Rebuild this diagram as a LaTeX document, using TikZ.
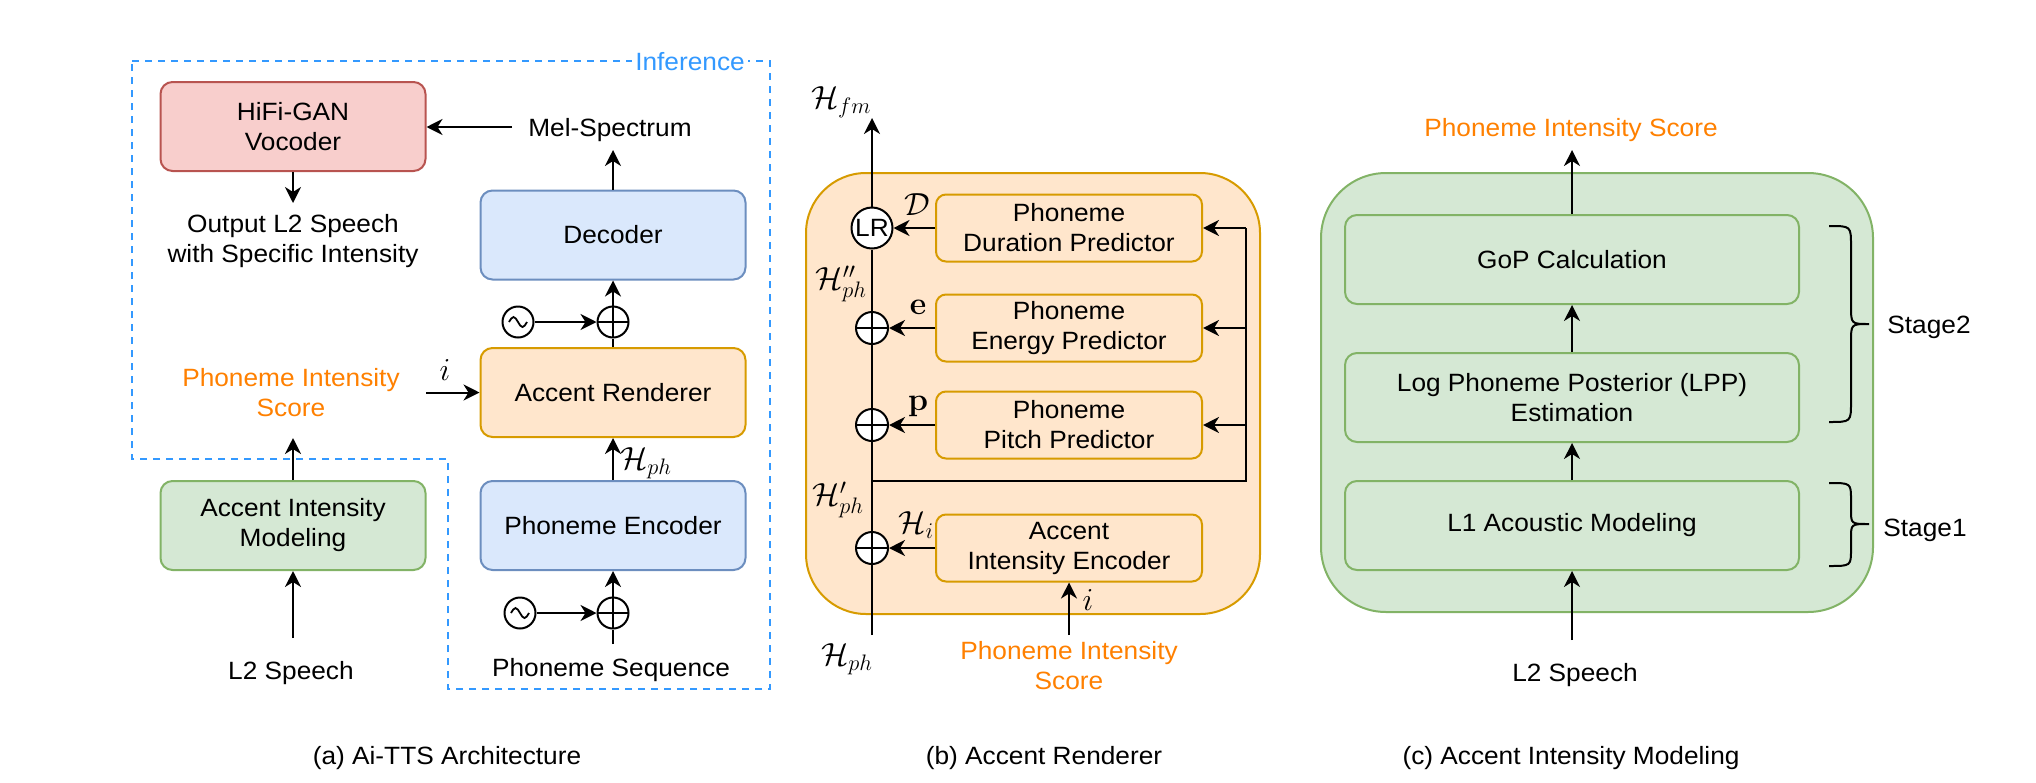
\RequirePackage{fix-cm}
\documentclass[tikz,border=0pt]{standalone}
\usepackage[no-math]{fontspec}
\setmainfont[FakeStretch=1.05]{Liberation Sans}
\usetikzlibrary{arrows.meta}
\definecolor{pinkF}{HTML}{F8CECC}
\definecolor{pinkD}{HTML}{B85450}
\definecolor{blueF}{HTML}{DAE8FC}
\definecolor{blueD}{HTML}{6C8EBF}
\definecolor{orF}{HTML}{FFE6CC}
\definecolor{orD}{HTML}{D79B00}
\definecolor{grF}{HTML}{D5E8D4}
\definecolor{grD}{HTML}{82B366}
\definecolor{orText}{HTML}{FF8000}
\definecolor{dashBlue}{HTML}{3399FF}
\newcommand\diagfont{\fontsize{25}{30}\selectfont}
\begin{document}
\begin{tikzpicture}[x=1pt,y=-1pt,
  every node/.style={font=\diagfont},
  box/.style={draw, line width=2pt, rounded corners=12pt, minimum width=265pt, minimum height=89pt, align=center, inner sep=0pt},
  pinkbox/.style={box, draw=pinkD, fill=pinkF},
  bluebox/.style={box, draw=blueD, fill=blueF},
  orbox/.style={box, draw=orD, fill=orF},
  grbox/.style={box, draw=grD, fill=grF},
  predbox/.style={box, draw=orD, fill=orF, rounded corners=10pt, minimum width=266pt, minimum height=67pt},
  gbox/.style={box, draw=grD, fill=grF, minimum width=454pt},
  txt/.style={align=center, inner sep=0pt},
  mth/.style={inner sep=0pt, font=\fontsize{32}{34}\selectfont},
  arr/.style={line width=2pt, -{Stealth[length=16pt,width=16pt,inset=5pt]}},
  ln/.style={line width=2pt},
  plusc/.style={circle, draw, line width=2pt, fill=white, minimum size=31pt, inner sep=0pt,
    path picture={\draw[line width=2pt] (path picture bounding box.north) -- (path picture bounding box.south) (path picture bounding box.west) -- (path picture bounding box.east);}},
  sinec/.style={circle, draw, line width=2pt, fill=white, minimum size=31pt, inner sep=0pt},
  dashline/.style={draw=dashBlue, line width=2.2pt, dash pattern=on 7pt off 6pt},
  orange/.style={txt, text=orText},
  brace/.style={line width=2pt},
]
\useasboundingbox (0,0) rectangle (2036,782);

% ---------------- Panel (a) ----------------
\draw[dashline] (132,61) -- (770,61) -- (770,689) -- (448,689) -- (448,459) -- (132,459) -- cycle;
\node[txt, text=dashBlue, fill=white, inner xsep=3pt, anchor=base] (inf) at (690,70) {Inference};

\node[pinkbox] (hifi) at (293,126.5) {HiFi-GAN\\Vocoder};
\node[txt, anchor=base] (mel) at (610,136.7) {Mel-Spectrum};
\node[txt] (out) at (293,241) {Output L2 Speech\\with Specific Intensity};
\node[bluebox] (dec) at (613,235) {Decoder};
\node[plusc] (pl1) at (613,322) {};
\node[sinec] (s1) at (518,322) {};
\node[orbox] (ar) at (613,392.5) {Accent Renderer};
\node[orange] (pisA) at (291,392.7) {Phoneme Intensity\\Score};
\node[mth] (iA) at (445,370) {$i$};
\node[grbox] (aim) at (293,525.5) {Accent Intensity\\Modeling};
\node[bluebox] (enc) at (613,525.5) {Phoneme Encoder};
\node[mth] (hphA) at (646,463) {$\mathcal{H}_{ph}$};
\node[plusc] (pl2) at (613,613) {};
\node[sinec] (s2) at (520,613) {};
\node[txt, anchor=base] (seq) at (611,676.7) {Phoneme Sequence};
\node[txt, anchor=base] (l2a) at (291,679.3) {L2 Speech};
\node[txt, anchor=base] (capA) at (447,764) {(a) Ai-TTS Architecture};

\draw[line width=1.8pt] ([xshift=-9pt]s1.center) sin ++(4.5pt,5pt) cos ++(4.5pt,-5pt) sin ++(4.5pt,-5pt) cos ++(4.5pt,5pt);
\draw[line width=1.8pt] ([xshift=-9pt]s2.center) sin ++(4.5pt,5pt) cos ++(4.5pt,-5pt) sin ++(4.5pt,-5pt) cos ++(4.5pt,5pt);

\coordinate (melIn) at (512,127);
\coordinate (melTop) at (613,150);
\coordinate (outTop) at (293,203);
\coordinate (iStart) at (426,392.5);
\coordinate (pisAbot) at (293,438);
\coordinate (l2aTop) at (293,638);
\coordinate (seqTop) at (613,644);

\draw[arr] (melIn) -- (melIn -| hifi.east);
\draw[arr] (hifi.south) -- (outTop);
\draw[arr] (dec.north) -- (melTop);
\draw[ln] (ar.north) -- (pl1.south);
\draw[arr] (pl1.north) -- (dec.south);
\draw[arr] (s1) -- (pl1);
\draw[arr] (iStart) -- (ar.west);
\draw[arr] (aim.north) -- (pisAbot);
\draw[arr] (l2aTop) -- (aim.south);
\draw[arr] (enc.north) -- (ar.south);
\draw[ln] (seqTop) -- (pl2.south);
\draw[arr] (pl2.north) -- (enc.south);
\draw[arr] (s2) -- (pl2);

% ---------------- Panel (b) ----------------
\node[draw=orD, fill=orF, line width=2pt, rounded corners=60pt, minimum width=454pt, minimum height=441pt, inner sep=0pt] (arBig) at (1033,393.5) {};
\node[predbox] (dur) at (1069,228) {Phoneme\\Duration Predictor};
\node[predbox] (ene) at (1069,328) {Phoneme\\Energy Predictor};
\node[predbox] (pit) at (1069,425) {Phoneme\\Pitch Predictor};
\node[predbox] (aie) at (1069,548) {Accent\\Intensity Encoder};
\node[circle, draw, line width=2pt, fill=white, minimum size=41pt, inner sep=0pt, font=\fontsize{25}{26}\selectfont] (lr) at (872,228) {LR};
\node[plusc, minimum size=32pt] (pE) at (872,328) {};
\node[plusc, minimum size=32pt] (pP) at (872,425) {};
\node[plusc, minimum size=32pt] (pI) at (872,548) {};
\node[mth] (hfm) at (841,102) {$\mathcal{H}_{fm}$};
\node[mth] (dLab) at (917,205) {$\mathcal{D}$};
\node[mth] (eLab) at (918,307) {$\mathbf{e}$};
\node[mth] (pLab) at (918,406) {$\mathbf{p}$};
\node[mth] (h2) at (841,284) {$\mathcal{H}^{\prime\prime}_{ph}$};
\node[mth] (h1) at (838,500) {$\mathcal{H}^{\prime}_{ph}$};
\node[mth] (hi) at (916,525) {$\mathcal{H}_{i}$};
\node[mth] (hphB) at (847,659) {$\mathcal{H}_{ph}$};
\node[mth] (iB) at (1088,600) {$i$};
\node[orange] (pisB) at (1069,666) {Phoneme Intensity\\Score};
\node[txt, anchor=base] (capB) at (1044,764) {(b) Accent Renderer};

\coordinate (hTop) at (872,118);
\coordinate (hBot) at (872,635);
\coordinate (jL) at (872,481);
\coordinate (jR) at (1246,481);
\coordinate (r1) at (1246,228);
\coordinate (r2) at (1246,328);
\coordinate (r3) at (1246,425);
\coordinate (pisBtop) at (1069,635);

\draw[ln] (hBot) -- (pI.south);
\draw[ln] (pI.north) -- (pP.south);
\draw[ln] (pP.north) -- (pE.south);
\draw[ln] (pE.north) -- (lr.south);
\draw[arr] (lr.north) -- (hTop);
\draw[ln] (jL) -- (jR) -- (r1);
\draw[arr] (r1) -- (dur.east);
\draw[arr] (r2) -- (ene.east);
\draw[arr] (r3) -- (pit.east);
\draw[arr] (dur.west) -- (lr.east);
\draw[arr] (ene.west) -- (pE.east);
\draw[arr] (pit.west) -- (pP.east);
\draw[arr] (aie.west) -- (pI.east);
\draw[arr] (pisBtop) -- (aie.south);

% ---------------- Panel (c) ----------------
\node[draw=grD, fill=grF, line width=2pt, rounded corners=65pt, minimum width=552pt, minimum height=439pt, inner sep=0pt] (aimBig) at (1597,392.5) {};
\node[gbox] (gop) at (1572,259.5) {GoP Calculation};
\node[gbox] (lpp) at (1572,397.5) {Log Phoneme Posterior (LPP)\\Estimation};
\node[gbox] (l1) at (1572,525.5) {L1 Acoustic Modeling};
\node[orange, anchor=base] (pisC) at (1571,136.7) {Phoneme Intensity Score};
\node[txt, anchor=base] (l2c) at (1575,681.7) {L2 Speech};
\node[txt, anchor=base] (st2) at (1929,333.3) {Stage2};
\node[txt, anchor=base] (st1) at (1925,536) {Stage1};
\node[txt, anchor=base] (capC) at (1571,764) {(c) Accent Intensity Modeling};

\coordinate (pisCbot) at (1572,150);
\coordinate (l2cTop) at (1572,640);
\draw[arr] (gop.north) -- (pisCbot);
\draw[arr] (lpp.north) -- (gop.south);
\draw[arr] (l1.north) -- (lpp.south);
\draw[arr] (l2cTop) -- (l1.south);

\draw[brace] (1829,226) .. controls (1851,226) .. (1851,246) -- (1851,306) .. controls (1851,324) .. (1869,324)
             .. controls (1851,324) .. (1851,342) -- (1851,402) .. controls (1851,422) .. (1829,422);
\draw[brace] (1829,483) .. controls (1851,483) .. (1851,500) -- (1851,510) .. controls (1851,524) .. (1869,524)
             .. controls (1851,524) .. (1851,538) -- (1851,549) .. controls (1851,566) .. (1829,566);
\end{tikzpicture}
\end{document}
